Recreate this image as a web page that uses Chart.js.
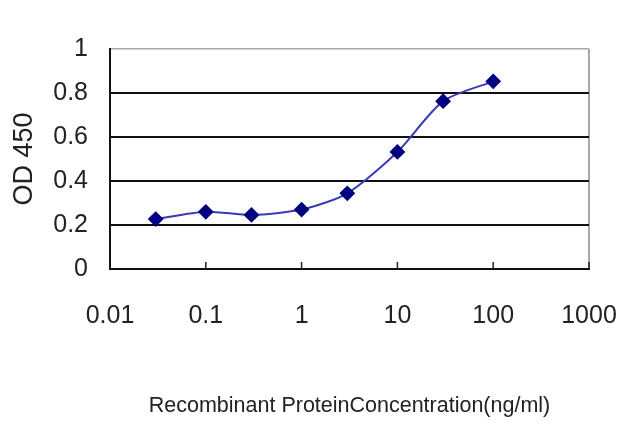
<!DOCTYPE html>
<html>
<head>
<meta charset="utf-8">
<script src="https://cdn.jsdelivr.net/npm/chart.js@4/dist/chart.umd.min.js"></script>
<style>
  html, body { margin: 0; padding: 0; background: #fff; }
  #wrap { width: 640px; height: 427px; }
</style>
</head>
<body>
<div id="wrap"><canvas id="elisaChart"></canvas></div>
<script>
// values
const concentrations = [0.03, 0.1, 0.3, 1, 3, 10, 30, 100];
const od450 = [0.227, 0.26, 0.246, 0.27, 0.344, 0.532, 0.763, 0.853];
const xTickValues = [0.01, 0.1, 1, 10, 100, 1000];
const yTickValues = [0, 0.2, 0.4, 0.6, 0.8, 1];

const fontFamily = '"Liberation Sans", Arial, sans-serif';

// short tick marks pointing up into the plot on the x axis
const innerTicks = {
    id: 'innerTicks',
    afterDatasetsDraw(chart) {
        const x = chart.scales.x;
        const ctx = chart.ctx;
        ctx.save();
        ctx.strokeStyle = '#222';
        ctx.lineWidth = 1.5;
        xTickValues.slice(1).forEach(v => {
            const px = x.getPixelForValue(v);
            ctx.beginPath();
            ctx.moveTo(px, x.top);
            ctx.lineTo(px, x.top - 7);
            ctx.stroke();
        });
        ctx.restore();
    }
};

const ctx = document.getElementById('elisaChart').getContext('2d');
new Chart(ctx, {
    type: 'line',
    data: {
        datasets: [{
            data: concentrations.map((c, i) => ({ x: c, y: od450[i] })),
            borderColor: '#3a3ab8',
            borderWidth: 2,
            tension: 0.25,
            pointStyle: 'rectRot',
            pointRadius: 6.5,
            pointBackgroundColor: '#000080',
            pointBorderColor: '#000080',
            fill: false
        }]
    },
    options: {
        responsive: true,
        maintainAspectRatio: false,
        animation: false,
        layout: { padding: { left: 0, right: 51, top: 49, bottom: 4 } },
        plugins: { legend: { display: false }, tooltip: { enabled: false } },
        scales: {
            x: {
                type: 'logarithmic',
                min: 0.01,
                max: 1000,
                afterBuildTicks: scale => {
                    scale.ticks = xTickValues.map(v => ({ value: v }));
                },
                afterFit: scale => {
                    scale.height = 154;
                    scale.paddingLeft = 0;
                    scale.paddingRight = 0;
                },
                ticks: {
                    autoSkip: false,
                    maxRotation: 0,
                    padding: 32,
                    color: '#222',
                    font: { family: fontFamily, size: 25 },
                    callback: value => String(value)
                },
                grid: {
                    drawTicks: false,
                    lineWidth: 2,
                    color: c => (c.tick && c.tick.value === 1000) ? '#a8a8a8' : 'rgba(0,0,0,0)'
                },
                border: { color: '#111', width: 2 },
                title: {
                    display: true,
                    text: 'Recombinant ProteinConcentration(ng/ml)',
                    color: '#222',
                    font: { family: fontFamily, size: 21.5 },
                    padding: { top: 0, bottom: 4 }
                }
            },
            y: {
                min: 0,
                max: 1,
                afterBuildTicks: scale => {
                    scale.ticks = yTickValues.map(v => ({ value: v }));
                },
                afterFit: scale => { scale.width = 110; },
                ticks: {
                    padding: 22,
                    color: '#222',
                    font: { family: fontFamily, size: 25 },
                    callback: value => String(value)
                },
                grid: {
                    drawTicks: false,
                    lineWidth: c => (c.tick && c.tick.value === 1) ? 1.5 : 2,
                    color: c => {
                        if (!c.tick) return '#111';
                        if (c.tick.value === 0) return 'rgba(0,0,0,0)';
                        if (c.tick.value === 1) return '#a8a8a8';
                        return '#111';
                    }
                },
                border: { color: '#111', width: 2 },
                title: {
                    display: true,
                    text: 'OD 450',
                    color: '#222',
                    font: { family: fontFamily, size: 27 },
                    padding: { top: 8, bottom: 0 }
                }
            }
        }
    },
    plugins: [innerTicks]
});
</script>
</body>
</html>
